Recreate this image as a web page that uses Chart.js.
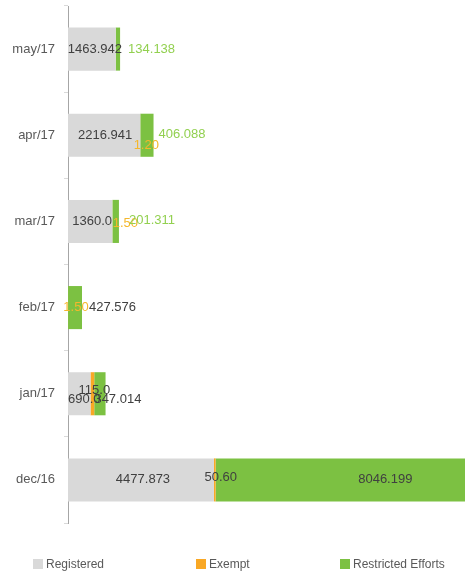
<!DOCTYPE html>
<html>
<head>
<meta charset="utf-8">
<script src="https://cdn.jsdelivr.net/npm/chart.js@4/dist/chart.umd.min.js"></script>
<style>
  body { margin: 0; background: #fff; }
  #wrap { position: relative; width: 465px; height: 574px; }
  #legend { position: absolute; left: 0; top: 557px; width: 465px; height: 14px;
            font: 12px "Liberation Sans", Arial, sans-serif; color: #595959; }
  #legend span.item { position: absolute; top: 0; white-space: nowrap; line-height: 14px; }
  #legend i { display: inline-block; width: 10px; height: 10px; margin-right: 3px; vertical-align: -1px; }
</style>
</head>
<body>
<div id="wrap">
  <canvas id="chart"></canvas>
  <div id="legend"></div>
</div>
<script>
// Месяцы сверху вниз
const months = ['may/17', 'apr/17', 'mar/17', 'feb/17', 'jan/17', 'dec/16'];

// Значения рядов (строкой — так же, как подписаны на графике)
const registered = ['1463.942', '2216.941', '1360.0', null, '690.0', '4477.873'];
const exempt     = [null, '1.20', '1.50', '1.50', '115.0', '50.60'];
const restricted = ['134.138', '406.088', '201.311', '427.576', '347.014', '8046.199'];

const seriesNames = ['Registered', 'Exempt', 'Restricted Efforts'];
const seriesColors = ['#d9d9d9', '#f9a825', '#7cc142'];

// Где рисовать подписи: [режим, dx, dy, цвет]
const textColors = { dark: '#404040', green: '#92d050', orange: '#f5b72c' };
const labelLayout = [
    [['center', 3, 0, 'dark'], ['center', 1, 0, 'dark'], ['center', 2, 0, 'dark'], null,
     ['center', 5, 6, 'dark'], ['center', 2, 0, 'dark']],
    [null, ['center', 6, 10, 'orange'], ['center', 13, 2, 'orange'], ['center', 8, 0, 'orange'],
     ['center', 2, -3, 'dark'], ['center', 6, -2, 'dark']],
    [['end', 8, 0, 'green'], ['end', 5, -1, 'green'], ['end', 10, -1, 'green'], ['end', 7, 0, 'dark'],
     ['center', 18, 6, 'dark'], ['center', 45, 0, 'dark']]
];

const toNum = arr => arr.map(v => v === null ? null : parseFloat(v));
const texts = [registered, exempt, restricted];

// Подписи значений у сегментов
const valueLabels = {
    id: 'valueLabels',
    afterDatasetsDraw(chart) {
        const ctx = chart.ctx;
        const area = chart.chartArea;
        ctx.save();
        ctx.font = '13px "Liberation Sans", Arial, sans-serif';
        ctx.textBaseline = 'middle';
        chart.data.datasets.forEach((ds, di) => {
            const meta = chart.getDatasetMeta(di);
            meta.data.forEach((bar, i) => {
                const text = texts[di][i];
                const pos = labelLayout[di][i];
                if (!text || !pos) return;
                const left = Math.min(bar.base, bar.x);
                const right = Math.min(Math.max(bar.base, bar.x), area.right);
                let x;
                if (pos[0] === 'end') {
                    ctx.textAlign = 'left';
                    x = right + pos[1];
                } else {
                    ctx.textAlign = 'center';
                    x = (left + right) / 2 + pos[1];
                }
                ctx.fillStyle = textColors[pos[3]];
                ctx.fillText(text, x, bar.y + pos[2]);
            });
        });
        ctx.restore();
    }
};

function createChart() {
    const ctx = document.getElementById('chart');
    const datasets = texts.map((arr, i) => ({
        label: seriesNames[i],
        data: toNum(arr),
        backgroundColor: seriesColors[i],
        borderWidth: 0,
        barPercentage: 0.5,
        categoryPercentage: 1
    }));

    const chart = new Chart(ctx, {
        type: 'bar',
        data: { labels: months, datasets: datasets },
        options: {
            indexAxis: 'y',
            responsive: true,
            maintainAspectRatio: false,
            animation: false,
            layout: { padding: { top: 6, bottom: 51, left: 0, right: 0 } },
            plugins: {
                legend: { display: false },
                tooltip: { enabled: false }
            },
            scales: {
                x: {
                    display: false,
                    stacked: true,
                    min: 0,
                    max: 12180
                },
                y: {
                    stacked: true,
                    afterFit: s => {
                        s.width = 68;
                        s.paddingTop = 0;
                        s.paddingBottom = 0;
                    },
                    grid: {
                        drawOnChartArea: false,
                        tickLength: 4,
                        color: '#d9d9d9'
                    },
                    border: { color: '#a6a6a6', width: 1 },
                    ticks: {
                        padding: 9,
                        color: '#595959',
                        font: { family: '"Liberation Sans", Arial, sans-serif', size: 13 }
                    }
                }
            }
        },
        plugins: [valueLabels]
    });

    // Легенда снизу
    const legend = document.getElementById('legend');
    const lefts = [33, 196, 340];
    chart.data.datasets.forEach((ds, i) => {
        const item = document.createElement('span');
        item.className = 'item';
        item.style.left = lefts[i] + 'px';
        const box = document.createElement('i');
        box.style.background = ds.backgroundColor;
        item.appendChild(box);
        item.appendChild(document.createTextNode(ds.label));
        legend.appendChild(item);
    });
}

window.onload = function() {
    createChart();
};
</script>
</body>
</html>
